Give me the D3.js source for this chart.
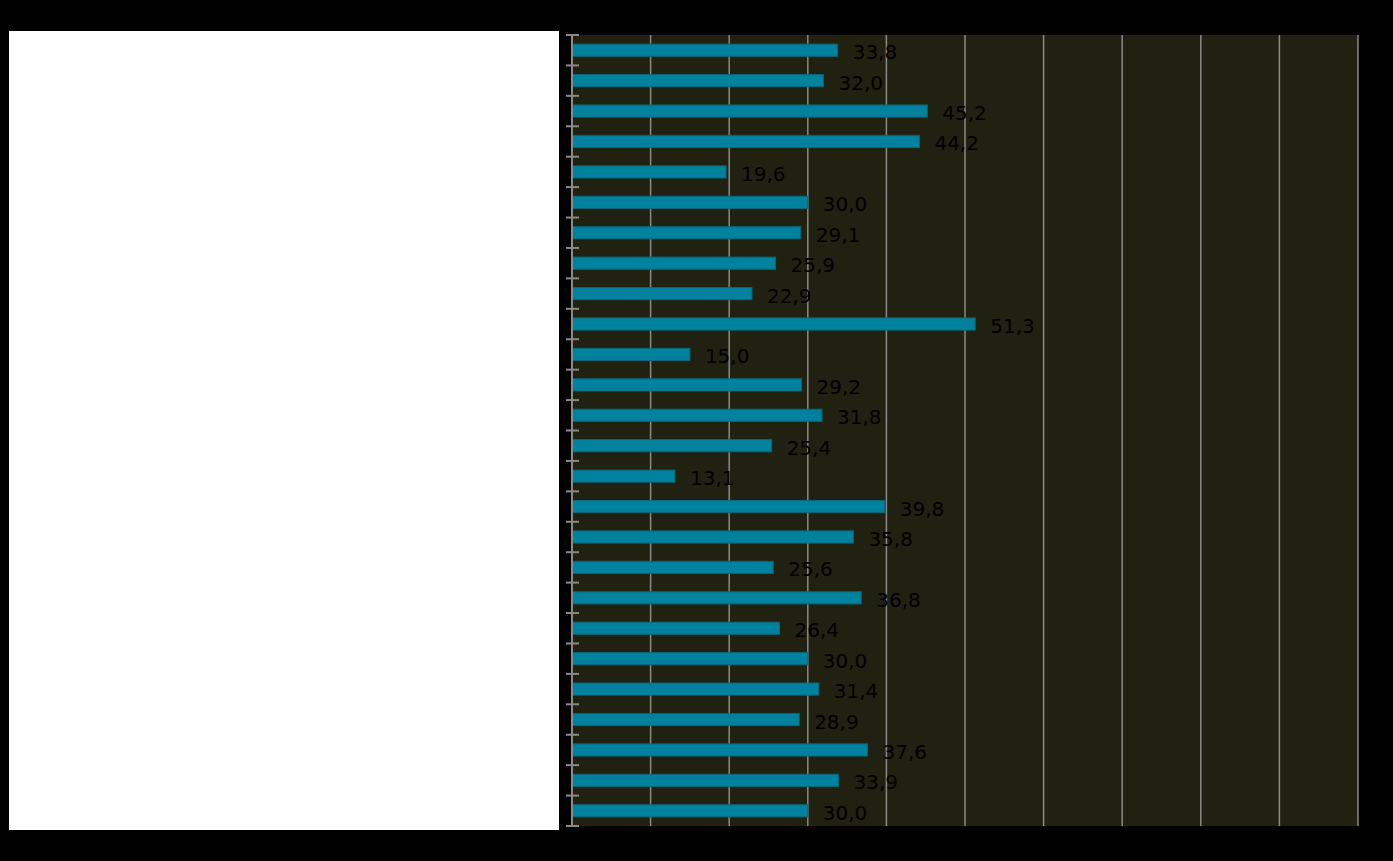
<!DOCTYPE html>
<html>
<head>
<meta charset="utf-8">
<script src="https://cdn.jsdelivr.net/npm/d3@7"></script>
<style>
  html, body { margin: 0; padding: 0; background: #000; }
  svg { display: block; }
</style>
</head>
<body>
<div id="chart"></div>
<script>
'use strict'

// rows top to bottom (category names not shown in the picture)
const categories = d3.range(1, 27).map(i => 'row ' + i)
const values = [33.8, 32.0, 45.2, 44.2, 19.6, 30.0, 29.1, 25.9, 22.9, 51.3, 15.0, 29.2, 31.8,
  25.4, 13.1, 39.8, 35.8, 25.6, 36.8, 26.4, 30.0, 31.4, 28.9, 37.6, 33.9, 30.0]
const xTicks = [0, 10, 20, 30, 40, 50, 60, 70, 80, 90, 100]

const width = 1393
const height = 861
const margin = {top: 35, right: 35, bottom: 35, left: 572}
const innerW = 1358 - margin.left
const innerH = 826 - margin.top

const svg = d3.select('#chart').append('svg')
  .attr('width', width)
  .attr('height', height)

svg.append('rect')
  .attr('width', width).attr('height', height)
  .attr('fill', '#000')

// white panel on the left
svg.append('rect')
  .attr('x', 9).attr('y', 31)
  .attr('width', 550).attr('height', 799)
  .attr('fill', '#fff')

const g = svg.append('g')
  .attr('transform', 'translate(' + margin.left + ',' + margin.top + ')')

const x = d3.scaleLinear().domain([0, 100]).range([0, innerW])
const y = d3.scaleBand().domain(categories).range([0, innerH]).paddingInner(0.6).paddingOuter(0.3)

// plot background
g.append('rect')
  .attr('width', innerW).attr('height', innerH)
  .attr('fill', '#212112')

// vertical gridlines
g.selectAll('.grid')
  .data(xTicks.slice(1))
  .enter().append('line')
  .attr('class', 'grid')
  .attr('x1', d => x(d)).attr('x2', d => x(d))
  .attr('y1', 0).attr('y2', innerH)
  .attr('stroke', '#8a8a86')
  .attr('stroke-width', 1.5)

// bars
const data = categories.map((c, i) => ({ cat: c, value: values[i] }))

g.selectAll('.bar')
  .data(data)
  .enter().append('rect')
  .attr('class', 'bar')
  .attr('x', x(0) + 0.5)
  .attr('y', d => y(d.cat))
  .attr('width', d => x(d.value) - x(0) - 0.5)
  .attr('height', y.bandwidth())
  .attr('fill', '#00829f')
  .attr('stroke', '#0a6678')
  .attr('stroke-width', 1)

// value labels
g.selectAll('.label')
  .data(data)
  .enter().append('text')
  .attr('class', 'label')
  .attr('x', d => x(d.value) + 15)
  .attr('y', d => y(d.cat) + y.bandwidth() / 2)
  .attr('dy', '0.45em')
  .attr('font-family', 'DejaVu Sans, sans-serif')
  .attr('font-size', 20)
  .attr('fill', '#000')
  .text(d => d3.format('.1f')(d.value).replace('.', ','))

// left axis with ticks on band boundaries
const step = innerH / categories.length
const tickYs = d3.range(categories.length + 1).map(i => i * step)

g.append('line')
  .attr('x1', 0).attr('x2', 0)
  .attr('y1', 0).attr('y2', innerH)
  .attr('stroke', '#8a8a86')
  .attr('stroke-width', 2)

g.selectAll('.ytick')
  .data(tickYs)
  .enter().append('line')
  .attr('class', 'ytick')
  .attr('x1', -6).attr('x2', 7)
  .attr('y1', d => d).attr('y2', d => d)
  .attr('stroke', '#8a8a86')
  .attr('stroke-width', 2)
</script>
</body>
</html>
